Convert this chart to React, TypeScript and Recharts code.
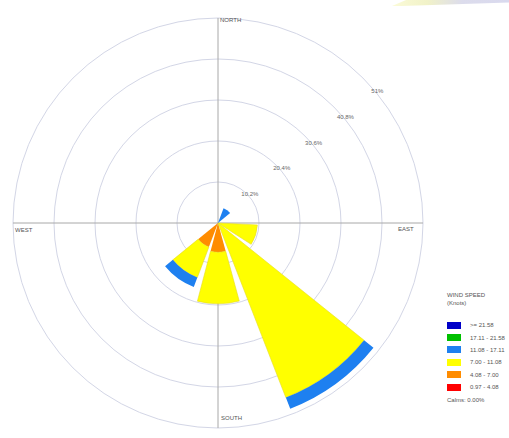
import React from "react";
import {
  RadialBarChart,
  RadialBar,
  PolarGrid,
  PolarAngleAxis,
  PolarRadiusAxis,
} from "recharts";

// 10 direction sectors, 36 degrees each, bearing from north
const directions = ["0", "36", "72", "108", "144", "180", "216", "252", "288", "324"];

// frequency (%) per speed class, stacked from the centre outwards
const red = [0, 0, 0, 0, 0, 0, 0, 0, 0, 0];
const orange = [0, 0, 0, 0, 0, 7.3, 6.4, 0, 0, 0];
const yellow = [0, 0, 0, 9.8, 46.6, 12.8, 8.1, 0, 0, 0];
const lightBlue = [0, 3.9, 0, 0, 3.0, 0, 2.5, 0, 0, 0];
const green = [0, 0, 0, 0, 0, 0, 0, 0, 0, 0];
const darkBlue = [0, 0, 0, 0, 0, 0, 0, 0, 0, 0];

const ringTicks = [10.2, 20.4, 30.6, 40.8, 51];
const ringLabels = ["10.2%", "20.4%", "30.6%", "40.8%", "51%"];

// legend, top to bottom
const binKeys = ["darkBlue", "green", "lightBlue", "yellow", "orange", "red"];
const binLabels = [">= 21.58", "17.11 - 21.58", "11.08 - 17.11", "7.00 - 11.08", "4.08 - 7.00", "0.97 - 4.08"];
const binColors = ["#0000c8", "#00c000", "#1e80f0", "#ffff00", "#ff8c00", "#ff0000"];
const calmsLabel = "Calms: 0.00%";

const compass = [
  { text: "NORTH", left: 220, top: 16 },
  { text: "EAST", left: 398, top: 225 },
  { text: "SOUTH", left: 221, top: 414 },
  { text: "WEST", left: 15, top: 226 },
];

const data = directions.map((d, i) => ({
  dir: d,
  red: red[i],
  orange: orange[i],
  yellow: yellow[i],
  lightBlue: lightBlue[i],
  green: green[i],
  darkBlue: darkBlue[i],
}));

const stackOrder = ["red", "orange", "yellow", "lightBlue", "green", "darkBlue"];
const colorOf = (k: string) => binColors[binKeys.indexOf(k)];

const font = "'Liberation Sans', Arial, sans-serif";

const RingTick = ({ x, y, payload }: any) => {
  const idx = ringTicks.indexOf(payload.value);
  return (
    <text x={x} y={y - 1} textAnchor="middle" fontSize={6} fill="#666" fontFamily={font}>
      {idx >= 0 ? ringLabels[idx] : ""}
    </text>
  );
};

export default function App() {
  return (
    <div style={{ position: "absolute", left: 0, top: 0, width: 509, height: 438, background: "#fff", fontFamily: font, overflow: "hidden" }}>
      {/* faint banner edge in the top right corner of the original screenshot */}
      <div
        style={{
          position: "absolute",
          left: 392,
          top: 0,
          width: 117,
          height: 6,
          background: "linear-gradient(90deg, #fbfbd8 0%, #f1f2c8 30%, #dcdcec 60%, #d9d9ee 100%)",
          clipPath: "polygon(8% 100%, 0% 100%, 12% 0%, 100% 0%, 100% 40%)",
        }}
      />
      <RadialBarChart
        width={440}
        height={438}
        data={data}
        layout="centric"
        cx={218}
        cy={223}
        innerRadius={0}
        outerRadius={205}
        startAngle={72}
        endAngle={-288}
        barCategoryGap="9%"
        margin={{ top: 0, right: 0, bottom: 0, left: 0 }}
      >
        <PolarGrid gridType="circle" radialLines={false} polarAngles={[]} stroke="#d3d6e6" strokeWidth={1} />
        <PolarGrid gridType="circle" polarRadius={[]} polarAngles={[90, 0, -90, 180]} stroke="#a8a8a8" strokeWidth={1} />
        <PolarAngleAxis dataKey="dir" type="category" tick={false} axisLine={false} tickLine={false} />
        <PolarRadiusAxis
          type="number"
          domain={[0, 51]}
          ticks={ringTicks}
          angle={39}
          axisLine={false}
          tickLine={false}
          tick={<RingTick />}
        />
        {stackOrder.map((k) => (
          <RadialBar
            key={k}
            dataKey={k}
            stackId="a"
            fill={colorOf(k)}
            stroke={k === "yellow" ? "#e6dc20" : "none"}
            strokeWidth={0.6}
            isAnimationActive={false}
          />
        ))}
      </RadialBarChart>

      {compass.map((c) => (
        <div key={c.text} style={{ position: "absolute", left: c.left, top: c.top, fontSize: 6, color: "#555", lineHeight: "8px" }}>
          {c.text}
        </div>
      ))}

      <div style={{ position: "absolute", left: 447, top: 291, fontSize: 6, color: "#555", lineHeight: "8px" }}>
        <div>WIND SPEED</div>
        <div>(Knots)</div>
        <div style={{ height: 12 }} />
        {binLabels.map((l, i) => (
          <div key={l} style={{ display: "flex", alignItems: "center", height: 12.4 }}>
            <div style={{ width: 14, height: 7, background: binColors[i], marginRight: 9 }} />
            <span>{l}</span>
          </div>
        ))}
        <div style={{ marginTop: 3 }}>{calmsLabel}</div>
      </div>
    </div>
  );
}
